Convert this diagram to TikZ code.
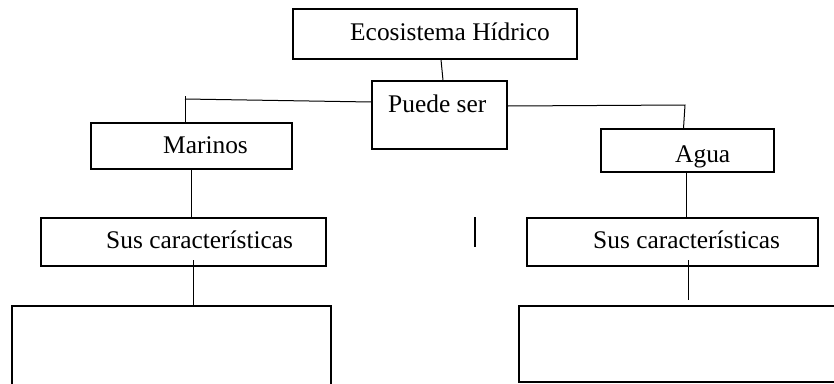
\documentclass[tikz,border=0pt]{standalone}
\usepackage{fontspec}
\setmainfont{Liberation Serif}
\begin{document}
\begin{tikzpicture}[x=1pt,y=-1pt,
  box/.style={draw, line width=1.3pt, inner sep=0pt, rectangle},
  conn/.style={line width=1pt},
  txt/.style={anchor=base west, inner sep=0pt, font=\fontsize{25.4}{30}\selectfont}]
\clip (0,0) rectangle (834,383);
\fill[white] (0,0) rectangle (834,383);
% boxes
\node[box, minimum width=284pt, minimum height=50pt] (eco) at (435,34) {};
\node[box, minimum width=135pt, minimum height=68pt] (puede) at (439.5,115) {};
\node[box, minimum width=201pt, minimum height=46pt] (marinos) at (191.5,146) {};
\node[box, minimum width=173pt, minimum height=43pt] (agua) at (687.5,150.5) {};
\node[box, minimum width=285pt, minimum height=48pt] (susL) at (183.5,242) {};
\node[box, minimum width=291pt, minimum height=48pt] (susR) at (672.5,242) {};
\node[box, minimum width=319pt, minimum height=100pt] (botL) at (171.5,356) {};
\node[box, minimum width=321pt, minimum height=76pt] (botR) at (679.5,344) {};
% texts
\node[txt] (t1) at (350,40) {Ecosistema Hídrico};
\node[txt] (t2) at (388,112) {Puede ser};
\node[txt] (t3) at (163,153) {Marinos};
\node[txt] (t4) at (675,162) {Agua};
\node[txt] (t5) at (106,248) {Sus características};
\node[txt] (t6) at (593,248) {Sus características};
% connectors
\draw[conn] ([xshift=6pt]eco.south) -- ([xshift=3.5pt]puede.north);
\coordinate (cl) at (185,99);
\coordinate (clt) at (185,96);
\draw[conn] ([yshift=13pt]puede.west) -- (cl);
\draw[conn] (clt) -- (clt |- marinos.north);
\coordinate (cr) at (685,105);
\draw[conn] ([yshift=9pt]puede.east) -- (cr) -- ([xshift=-4pt]agua.north);
\draw[conn] ([xshift=-0.5pt]marinos.south) -- ([xshift=-0.5pt]marinos.south |- susL.north);
\draw[conn] ([xshift=-1.5pt]agua.south) -- ([xshift=-1.5pt]agua.south |- susR.north);
\coordinate (sl) at (193,260);
\draw[conn] (sl) -- (sl |- botL.north);
\coordinate (sr) at (688,260);
\coordinate (srb) at (688,300);
\draw[conn] (sr) -- (srb);
\coordinate (st1) at (475,217);
\coordinate (st2) at (475,247);
\draw[line width=1.3pt] (st1) -- (st2);
\end{tikzpicture}
\end{document}
